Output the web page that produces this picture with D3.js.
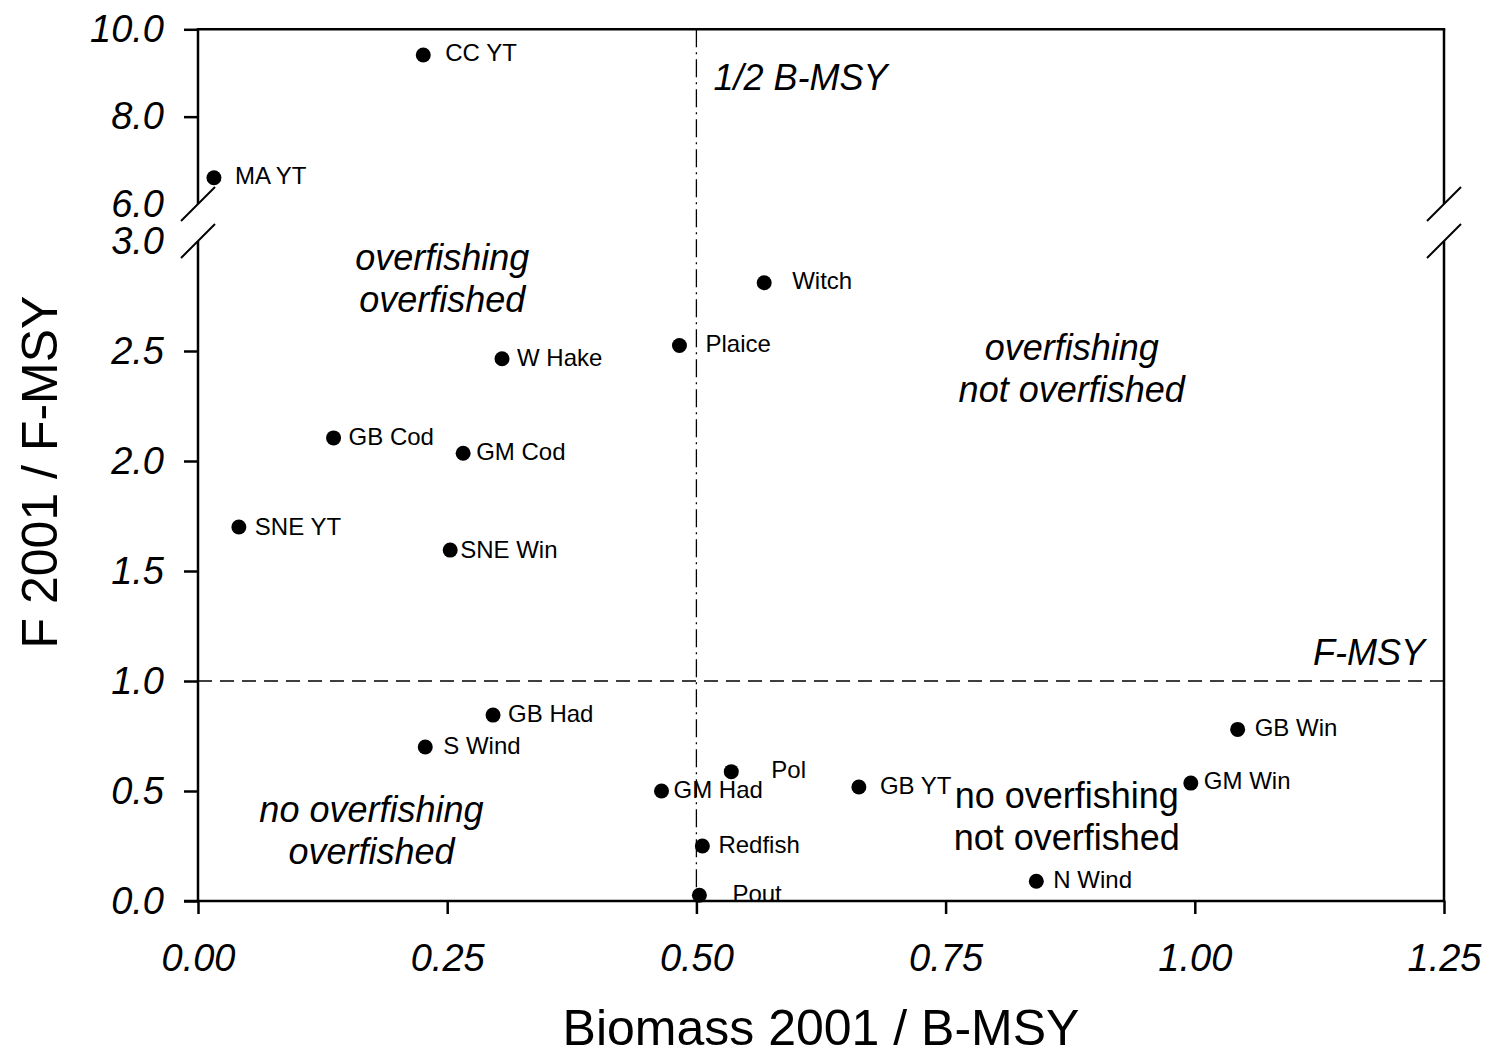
<!DOCTYPE html>
<html><head><meta charset="utf-8">
<script src="https://cdn.jsdelivr.net/npm/d3@7"></script>
<style>body{margin:0;background:#fff}svg{display:block}text{font-family:Arial,"Liberation Sans",sans-serif}</style>
</head><body>
<svg id="c" width="1492" height="1050"></svg>
<script>
// ---- data ----
const stocks  = ["CC YT","MA YT","Witch","Plaice","W Hake","GB Cod","GM Cod","SNE YT","SNE Win","GB Had","S Wind","GM Had","Pol","GB YT","Redfish","Pout","N Wind","GM Win","GB Win"];
const biomass = [0.226,0.016,0.568,0.483,0.305,0.136,0.266,0.041,0.253,0.296,0.228,0.465,0.535,0.663,0.506,0.503,0.841,0.996,1.043];
const fRatio  = [9.41,6.60,2.81,2.525,2.465,2.105,2.035,1.70,1.595,0.845,0.70,0.50,0.588,0.518,0.25,0.026,0.09,0.536,0.78];
// label offsets (px) relative to point
const labelDx = [22,21,28,26,15,15,13,16,10,15,18,12,40,21,16,33,17,13,17];
const labelDy = [-3,-2,-2,-2,-1,-1,-2,-1,-1,-2,-2,-2,-2,-2,-2,-2,-2,-3,-2];
const xTicks = [0,0.25,0.5,0.75,1.0,1.25];
const yTicksLow = [0,0.5,1.0,1.5,2.0,2.5,3.0];
const yTicksHigh = [6.0,8.0,10.0];
const quadLabels = [
  {lines:["overfishing","overfished"], x:0.245, y:2.87, italic:true},
  {lines:["overfishing","not overfished"], x:0.8765, y:2.46, italic:true},
  {lines:["no overfishing","overfished"], x:0.174, y:0.36, italic:true},
  {lines:["no overfishing","not overfished"], x:0.8715, y:0.4227, italic:false}
];

// ---- layout ----
const svg = d3.select("#c");
const L = 198, R = 1444;
const x = d3.scaleLinear().domain([0,1.25]).range([L,R]);
const yLow = d3.scaleLinear().domain([0,3]).range([901,241]);
const yHigh = d3.scaleLinear().domain([6,10]).range([204,29.3]);
const yOf = v => v > 3 ? yHigh(v) : yLow(v);

const g = svg.append("g");
const stroke = "#000";

// reference lines
g.append("line").attr("x1",x(0.5)).attr("x2",x(0.5)).attr("y1",yHigh(10)).attr("y2",yLow(0))
  .attr("stroke",stroke).attr("stroke-width",1.3).attr("stroke-dasharray","18,5,2,5");
g.append("line").attr("x1",L).attr("x2",R).attr("y1",yLow(1)).attr("y2",yLow(1))
  .attr("stroke",stroke).attr("stroke-width",1.5).attr("stroke-dasharray","14,8");

// axes
const fontTick = "italic 38px Arial, 'Liberation Sans', sans-serif";
const xAxis = d3.axisBottom(x).tickValues(xTicks).tickFormat(d3.format(".2f")).tickSize(13).tickPadding(30);
const xa = g.append("g").attr("transform",`translate(0,${yLow(0)})`).call(xAxis);
xa.select(".domain").remove();
xa.selectAll("text").style("font",fontTick).attr("fill","#000");
xa.selectAll("line").attr("stroke-width",2.5);

const yAxisL = d3.axisLeft(yLow).tickValues(yTicksLow).tickFormat(d3.format(".1f")).tickSize(14).tickPadding(20);
const ya = g.append("g").attr("transform",`translate(${L},0)`).call(yAxisL);
ya.select(".domain").remove();
ya.selectAll("text").style("font",fontTick).attr("fill","#000");
ya.selectAll("line").attr("stroke-width",2.5);
ya.selectAll(".tick").filter(d=>d===3).select("line").remove();

const yAxisH = d3.axisLeft(yHigh).tickValues(yTicksHigh).tickFormat(d3.format(".1f")).tickSize(14).tickPadding(20);
const yh = g.append("g").attr("transform",`translate(${L},0)`).call(yAxisH);
yh.select(".domain").remove();
yh.selectAll("text").style("font",fontTick).attr("fill","#000");
yh.selectAll("line").attr("stroke-width",2.5);
yh.selectAll(".tick").filter(d=>d===6).select("line").remove();

// frame lines
const seg = (x1,y1,x2,y2,w)=>g.append("line").attr("x1",x1).attr("y1",y1).attr("x2",x2).attr("y2",y2).attr("stroke",stroke).attr("stroke-width",w||2.5);
seg(L-1.25, yHigh(10), R+1.25, yHigh(10));
seg(L-14, yLow(0), R+1.25, yLow(0));
[L,R].forEach(xx=>{
  seg(xx, yHigh(10), xx, yHigh(6));
  seg(xx, yLow(3), xx, yLow(0));
  seg(xx-17, yHigh(6)+17, xx+17, yHigh(6)-17, 2);
  seg(xx-17, yLow(3)+17, xx+17, yLow(3)-17, 2);
});

// annotations
g.append("text").attr("x",x(0.5)+17).attr("y",90).style("font","italic 36px Arial, 'Liberation Sans', sans-serif").text("1/2 B-MSY");
g.append("text").attr("x",1425).attr("y",yLow(1)-16).attr("text-anchor","end").style("font","italic 36px Arial, 'Liberation Sans', sans-serif").text("F-MSY");

quadLabels.forEach(q=>{
  const t = g.append("text").attr("text-anchor","middle")
    .style("font",(q.italic?"italic ":"")+"36px Arial, 'Liberation Sans', sans-serif");
  q.lines.forEach((ln,i)=>t.append("tspan").attr("x",x(q.x)).attr("y",yLow(q.y)+i*42).text(ln));
});

// points
const pts = stocks.map((s,i)=>({s, b:biomass[i], f:fRatio[i], dx:labelDx[i], dy:labelDy[i]}));
g.selectAll("circle.p").data(pts).join("circle").attr("class","p")
  .attr("cx",d=>x(d.b)).attr("cy",d=>yOf(d.f)).attr("r",7.5).attr("fill","#000");
g.selectAll("text.lbl").data(pts).join("text").attr("class","lbl")
  .attr("x",d=>x(d.b)+d.dx).attr("y",d=>yOf(d.f)+d.dy+8.5)
  .style("font","24px Arial, 'Liberation Sans', sans-serif").text(d=>d.s);

// axis titles
svg.append("text").attr("x",821).attr("y",1045).attr("text-anchor","middle")
  .style("font","50px Arial, 'Liberation Sans', sans-serif").text("Biomass 2001 / B-MSY");
svg.append("text").attr("transform","translate(57,472) rotate(-90)").attr("text-anchor","middle")
  .style("font","50px Arial, 'Liberation Sans', sans-serif").text("F 2001 / F-MSY");
</script>
</body></html>
